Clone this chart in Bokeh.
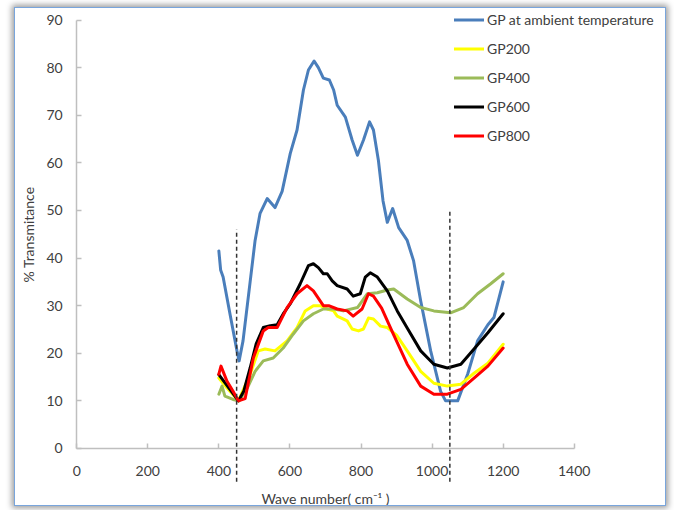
from bokeh.plotting import figure
from bokeh.models import Legend, LegendItem, FixedTicker
from bokeh.embed import file_html
from bokeh.resources import INLINE

# ---- data ----
blue_x = [400, 405, 412, 432, 451, 457, 468, 488, 502, 516, 536, 558, 578, 601, 620, 638, 652, 668, 680, 694,
          711, 723, 733, 756, 775, 790, 807, 824, 835, 849, 862, 874, 889, 906, 930, 948, 968, 996, 1024, 1038,
          1072, 1100, 1128, 1157, 1174, 1200]
blue_y = [41.5, 37.5, 36, 28, 20.5, 18.4, 22.6, 35, 43.7, 49.4, 52.5, 50.6, 54, 62, 66.9, 75.3, 79.5, 81.4, 80, 77.8,
          77.4, 75.3, 72.1, 69.6, 64.8, 61.6, 64.8, 68.6, 66.9, 60.5, 52, 47.5, 50.4, 46.4, 43.7, 39.4, 31, 20.5, 12, 10,
          10, 15.6, 22.6, 26, 27.5, 35]

gp200_x = [400, 423, 455, 488, 511, 530, 558, 592, 620, 643, 666, 685, 705, 723, 733, 761, 775, 793, 807, 821,
           835, 855, 874, 900, 930, 968, 1005, 1043, 1081, 1118, 1157, 1200]
gp200_y = [14.8, 12.7, 10, 15.6, 20.5, 20.9, 20.5, 22.6, 25.4, 28.9, 30, 30, 29.3, 28.9, 27.8, 26.8, 25.1, 24.7, 25.1, 27.4,
           27.2, 25.7, 25.4, 23.8, 20.5, 16.2, 13.7, 13.1, 13.5, 15.8, 17.9, 21.9]

gp400_x = [400, 409, 417, 440, 457, 480, 502, 525, 553, 581, 609, 638, 666, 694, 723, 750, 790, 818, 846, 874,
           892, 930, 968, 1005, 1052, 1089, 1128, 1165, 1200]
gp400_y = [11.4, 13.1, 11, 10.3, 10, 12.7, 16.2, 18.4, 19, 21.1, 24, 26.8, 28.3, 29.3, 29.3, 28.9, 29.6, 32.5, 32.7, 33.3,
           33.5, 31.4, 29.6, 28.9, 28.5, 29.6, 32.5, 34.6, 36.7]

gp600_x = [400, 420, 440, 455, 470, 488, 505, 525, 545, 564, 583, 601, 629, 652, 666, 680, 694, 705, 719, 733,
           761, 778, 798, 812, 826, 846, 874, 902, 930, 968, 1005, 1043, 1081, 1118, 1157, 1200]
gp600_y = [15.5, 13.5, 11.5, 10, 12, 16.9, 22, 25.4, 25.8, 26, 28.5, 30.4, 34.6, 38.4, 38.8, 38, 36.7, 36.7, 35.2, 34.2,
           33.5, 32, 32.5, 36, 36.9, 36, 33.1, 28.9, 25.3, 20.5, 17.7, 16.9, 17.7, 20.9, 24.3, 28.3]

gp800_x = [400, 406, 423, 440, 455, 474, 497, 525, 539, 564, 592, 620, 648, 666, 694, 709, 733, 761, 778, 803,
           821, 835, 858, 891, 930, 968, 1005, 1043, 1081, 1118, 1157, 1200]
gp800_y = [15.6, 17.3, 14.1, 12, 10, 10.5, 19, 24.7, 25.4, 25.4, 29.6, 32.5, 34.2, 33.1, 30, 30, 29.3, 28.9, 27.8, 29.3,
           32.5, 32, 29.5, 24, 17.7, 13.1, 11.4, 11.4, 12.4, 14.8, 17.3, 21.1]

marker_x = [450, 1050]
marker_top = [46, 50]
marker_bottom = [-7, -7]

series_names = ["GP at ambient temperature", "GP200", "GP400", "GP600", "GP800"]
x_ticks = [0, 200, 400, 600, 800, 1000, 1200, 1400]
y_ticks = [0, 10, 20, 30, 40, 50, 60, 70, 80, 90]

FONT = "Lato"
TXT = "#404040"

p = figure(width=652, height=499, output_backend="svg", toolbar_location=None,
           x_range=(-172.2, 1659.6), y_range=(-12.4, 92),
           min_border_left=0, min_border_right=1, min_border_top=2, min_border_bottom=0)
p.styles = {"border": "1px solid #79a5dc", "box-shadow": "0px 0px 6px 2px #9a9a9a",
            "position": "relative", "top": "7px", "left": "14px"}
p.grid.visible = False
p.outline_line_color = None
p.background_fill_color = "white"
p.border_fill_color = "white"

colors = ["#4a7ebb", "#ffff00", "#9bbb59", "#000000", "#ff0000"]
xs = [blue_x, gp200_x, gp400_x, gp600_x, gp800_x]
ys = [blue_y, gp200_y, gp400_y, gp600_y, gp800_y]
renderers = []
for x, y, c in zip(xs, ys, colors):
    r = p.line(x, y, line_color=c, line_width=3, line_join="round", line_cap="round")
    renderers.append(r)

p.segment(x0=marker_x, y0=marker_bottom, x1=marker_x, y1=marker_top,
          line_color="#333333", line_width=1.5, line_dash="4 3")

# axes
p.xaxis.fixed_location = 0
p.yaxis.fixed_location = 0
p.xaxis.bounds = (0, 1400)
p.xaxis.ticker = FixedTicker(ticks=x_ticks)
p.yaxis.bounds = (0, 90)
p.yaxis.ticker = FixedTicker(ticks=y_ticks)
for ax in (p.xaxis, p.yaxis):
    ax.axis_line_color = "#bfbfbf"
    ax.axis_line_width = 1.5
    ax.major_tick_line_color = "#bfbfbf"
    ax.major_tick_line_width = 1.5
    ax.major_tick_in = 5
    ax.major_tick_out = 0
    ax.minor_tick_line_color = None
    ax.major_label_text_font = FONT
    ax.major_label_text_font_size = "14px"
    ax.major_label_text_color = TXT
    ax.axis_label_text_font = FONT
    ax.axis_label_text_font_size = "14px"
    ax.axis_label_text_font_style = "normal"
    ax.axis_label_text_color = TXT
p.xaxis.axis_label = "Wave number( cm\u207b\u00b9 )"
p.yaxis.axis_label = "% Transmitance"
p.xaxis.major_label_standoff = 18
p.xaxis.axis_label_standoff = 10
p.yaxis.major_label_standoff = 14
p.yaxis.axis_label_standoff = 6

legend = Legend(items=[LegendItem(label=n, renderers=[r]) for n, r in zip(series_names, renderers)],
                location=(439, 363))
legend.background_fill_alpha = 0
legend.border_line_color = None
legend.label_text_font = FONT
legend.label_text_font_size = "14px"
legend.label_text_color = TXT
legend.glyph_width = 30
legend.glyph_height = 17
legend.label_height = 17
legend.label_standoff = 3
legend.spacing = 12
legend.padding = 0
legend.margin = 0
p.add_layout(legend)

open("out.html", "w").write(file_html(p, INLINE))
